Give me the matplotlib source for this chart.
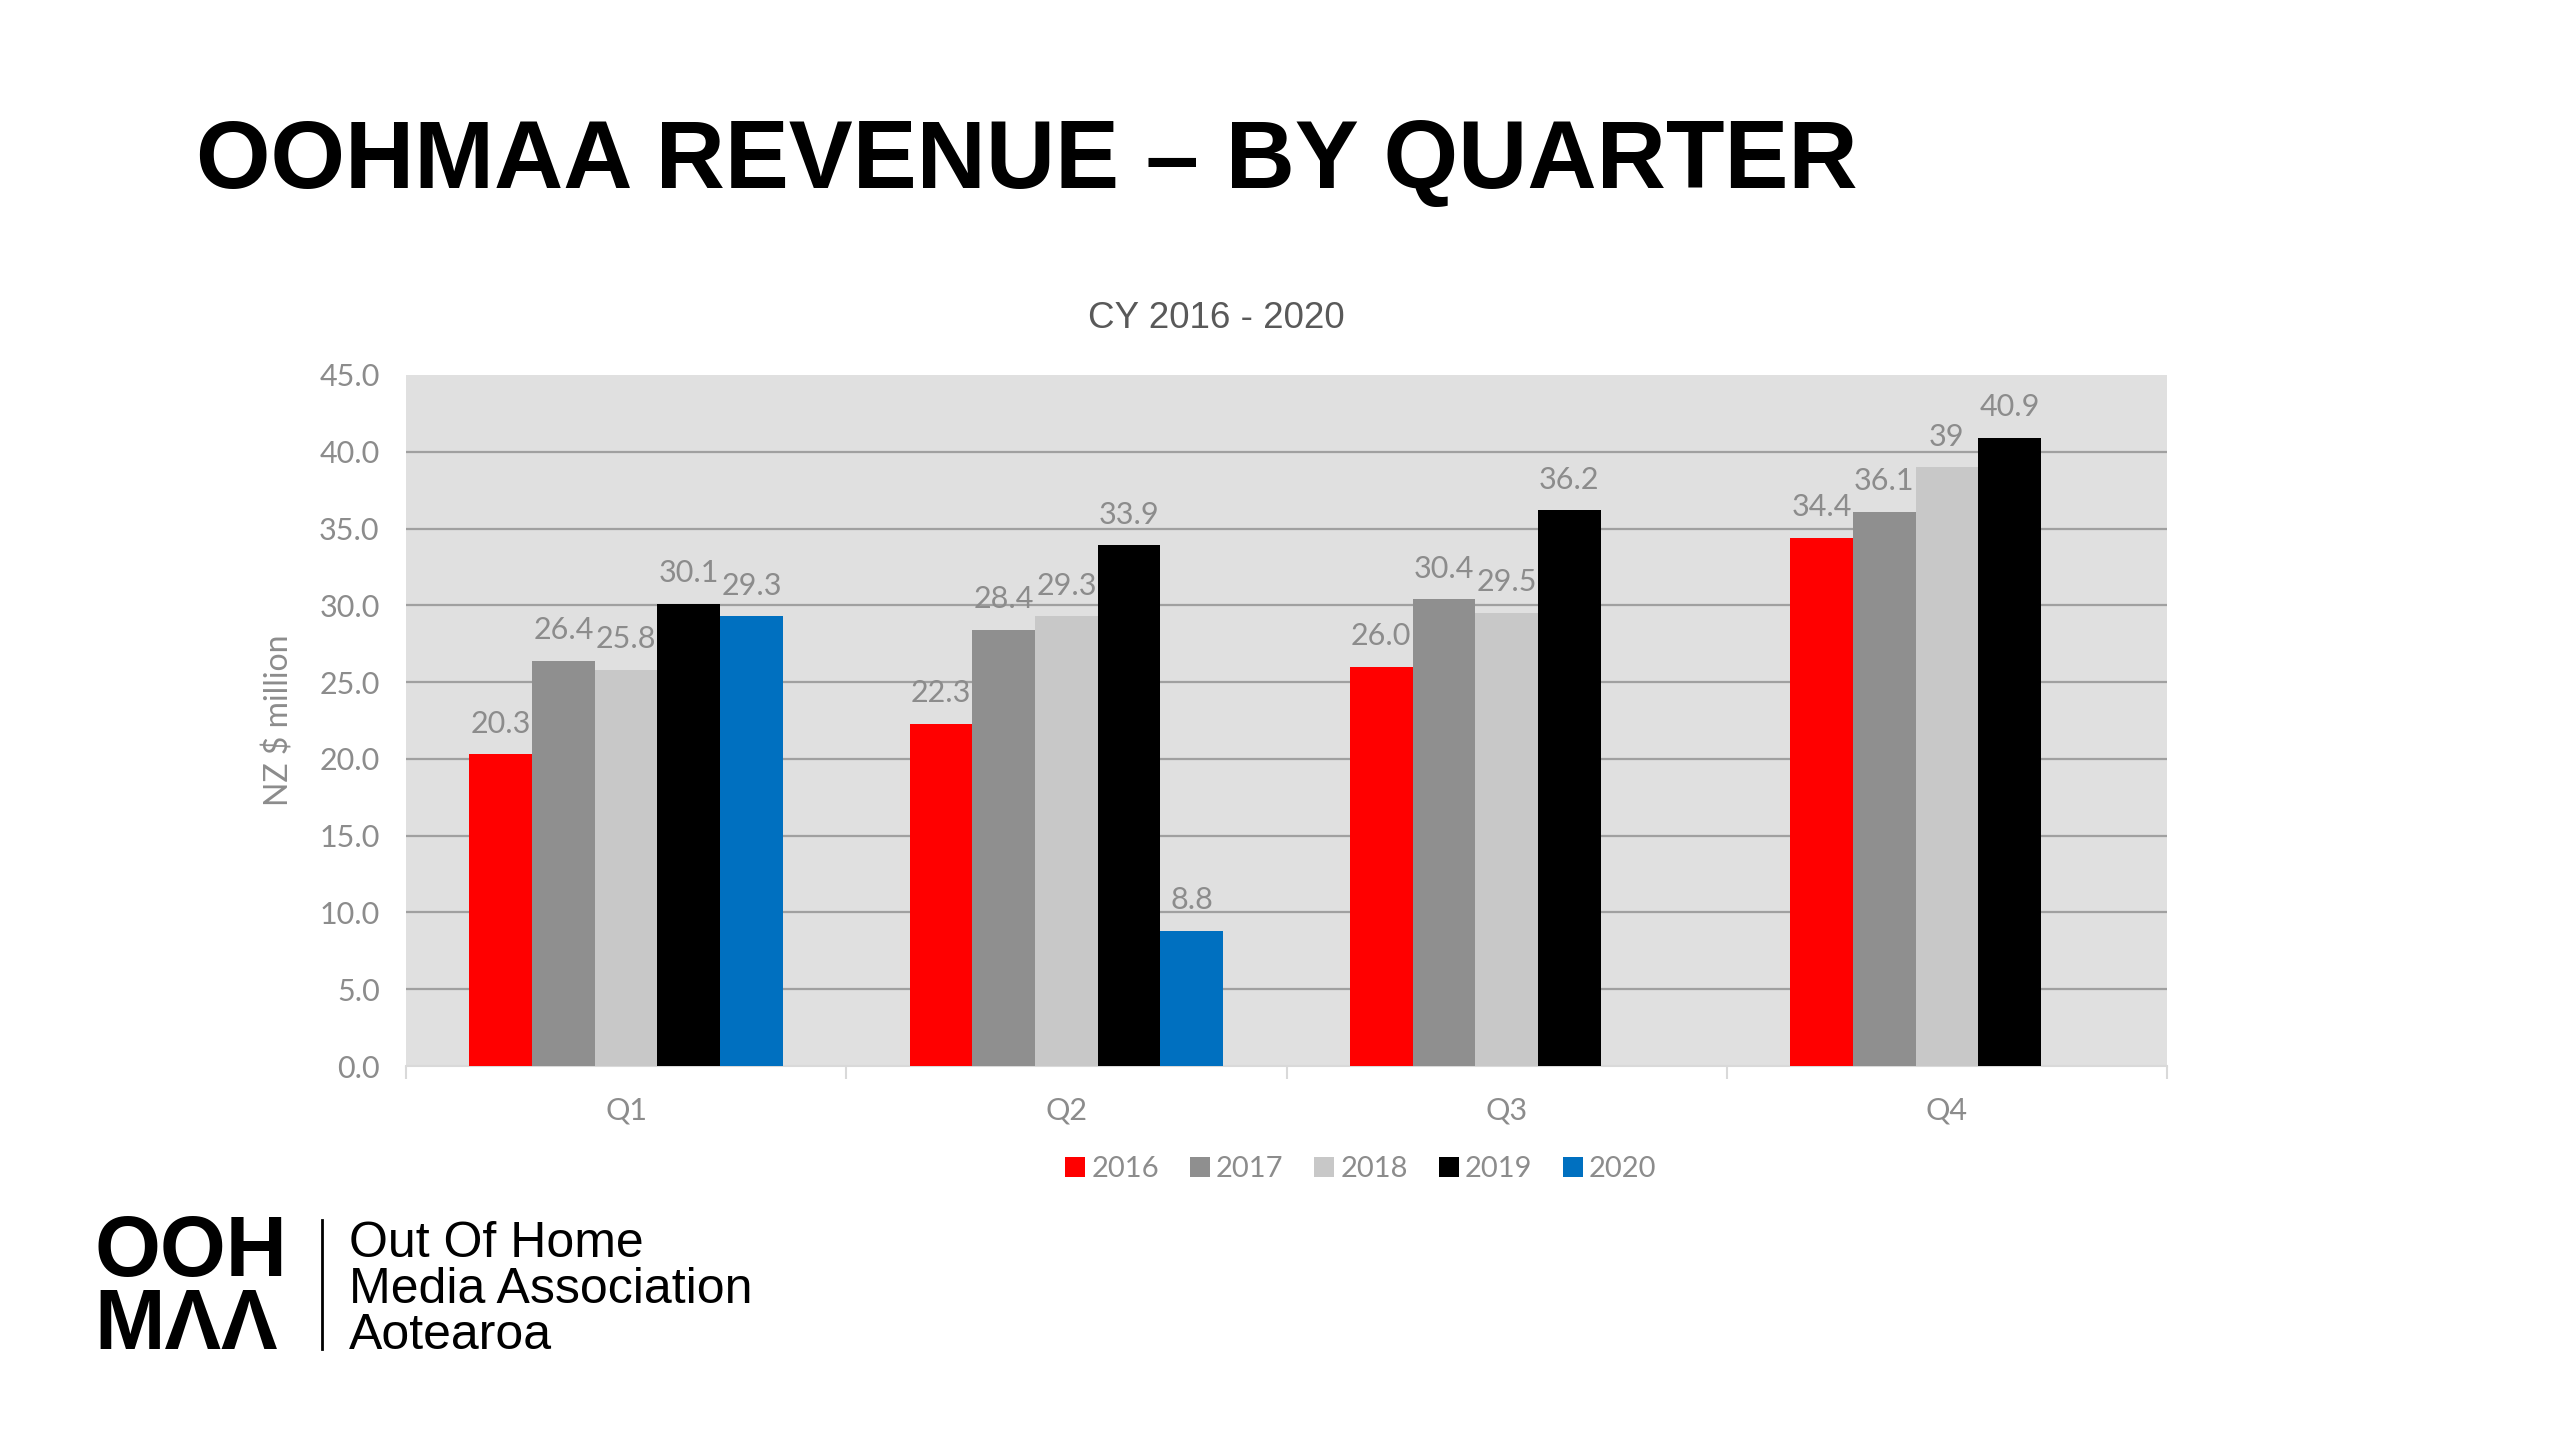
import numpy as np
import matplotlib
matplotlib.use("Agg")
import matplotlib.pyplot as plt
from matplotlib.lines import Line2D

# ---- data ----
quarters = ["Q1", "Q2", "Q3", "Q4"]
years = ["2016", "2017", "2018", "2019", "2020"]
v2016 = [20.3, 22.3, 26.0, 34.4]
v2017 = [26.4, 28.4, 30.4, 36.1]
v2018 = [25.8, 29.3, 29.5, 39.0]
v2019 = [30.1, 33.9, 36.2, 40.9]
v2020 = [29.3, 8.8]
lab2016 = ["20.3", "22.3", "26.0", "34.4"]
lab2017 = ["26.4", "28.4", "30.4", "36.1"]
lab2018 = ["25.8", "29.3", "29.5", "39"]
lab2019 = ["30.1", "33.9", "36.2", "40.9"]
lab2020 = ["29.3", "8.8"]
yticks = [0, 5, 10, 15, 20, 25, 30, 35, 40, 45]

series = [v2016, v2017, v2018, v2019, v2020]
labels = [lab2016, lab2017, lab2018, lab2019, lab2020]
colors = ["#FF0000", "#8F8F8F", "#C8C8C8", "#000000", "#0070C0"]

W, H = 2560, 1439
fig = plt.figure(figsize=(W / 100, H / 100), dpi=100)
fig.patch.set_facecolor("white")

def fx(x):
    return x / W

def fy(y):
    return 1 - y / H

TICK_FONT = "Lato"
TXT = "#8C8C8C"

# axes
ax_l, ax_r, ax_t, ax_b = 406, 2167, 375, 1066
ax = fig.add_axes([fx(ax_l), fy(ax_b), fx(ax_r - ax_l), (ax_b - ax_t) / H])
ax.set_facecolor("#E0E0E0")

w = 0.1425
x = np.arange(len(quarters))
for i, (vals, labs, c) in enumerate(zip(series, labels, colors)):
    xs = x[:len(vals)] + (i - 2) * w
    ax.bar(xs, vals, width=w, color=c, zorder=3, linewidth=0)
    for xi, v, t in zip(xs, vals, labs):
        ax.annotate(t, (xi, v), xytext=(0, 22), textcoords="offset points",
                    ha="center", va="center", fontsize=22, color=TXT,
                    family=TICK_FONT, zorder=4)

ax.set_xlim(-0.5, 3.5)
ax.set_ylim(0, 45)
ax.set_yticks(yticks)
ax.set_yticklabels([f"{t:.1f}" for t in yticks], fontsize=22, color=TXT, family=TICK_FONT)
for t in yticks[1:-1]:
    ax.axhline(t, color="#A0A0A0", linewidth=1.6, zorder=1)
ax.tick_params(axis="y", length=0, pad=19)

ax.set_xticks(x)
ax.set_xticklabels(quarters, fontsize=22, color=TXT, family=TICK_FONT)
ax.set_xticks(np.arange(-0.5, 4, 1), minor=True)
ax.tick_params(axis="x", which="major", length=0, pad=22)
ax.tick_params(axis="x", which="minor", length=9, color="#D9D9D9", width=1.5)

for s in ["top", "right", "left"]:
    ax.spines[s].set_visible(False)
ax.spines["bottom"].set_color("#D9D9D9")
ax.spines["bottom"].set_linewidth(1.5)

ax.set_ylabel("NZ $ million", fontsize=23, color=TXT, family=TICK_FONT)
ax.yaxis.set_label_coords((294 - ax_l) / (ax_r - ax_l), 0.5)

# chart title
fig.text(fx(1216), fy(318), "CY 2016 - 2020", ha="center", va="center",
         fontsize=26.5, color="#595959", family="Liberation Sans")

# main title
fig.text(fx(196), fy(188), "OOHMAA REVENUE \u2013 BY QUARTER", ha="left", va="baseline",
         fontsize=69, fontweight="bold", color="black", family="Liberation Sans")

# legend
handles = [Line2D([], [], marker="s", linestyle="none", markersize=14,
                  markerfacecolor=c, markeredgewidth=0) for c in colors]
leg = fig.legend(handles, years, loc="center", bbox_to_anchor=(fx(1360), fy(1169)),
                 ncol=5, frameon=False, handlelength=0.8, handletextpad=0.15,
                 columnspacing=1.0, prop={"family": TICK_FONT, "size": 21})
for t in leg.get_texts():
    t.set_color(TXT)

# logo
fig.text(fx(94), fy(1349), "OOH\nM\u039b\u039b", ha="left", va="baseline", fontsize=61,
         fontweight="bold", family="Liberation Sans", color="black", linespacing=0.885)
fig.add_artist(Line2D([fx(322), fx(322)], [fy(1220), fy(1349)], color="black", linewidth=2))
fig.text(fx(349), fy(1349), "Out Of Home\nMedia Association\nAotearoa", ha="left",
         va="baseline", fontsize=36, family="Liberation Sans", color="black",
         linespacing=1.0)

fig.savefig("out.png", dpi=100, facecolor="white")
